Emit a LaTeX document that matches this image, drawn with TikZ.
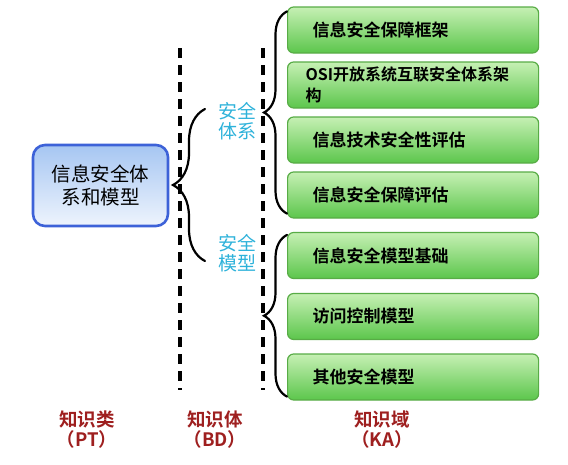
\documentclass[tikz,border=0pt]{standalone}
\usepackage{fontspec}
\setmainfont{Noto Sans CJK SC}[BoldFont={Noto Sans CJK SC Bold}]
\usetikzlibrary{decorations.pathreplacing}
\definecolor{ptborder}{HTML}{3D62D8}
\definecolor{pttop}{HTML}{A6C6F2}
\definecolor{ptbottom}{HTML}{EEF4FD}
\definecolor{katop}{HTML}{C6F0B4}
\definecolor{kamid}{HTML}{80D86A}
\definecolor{kabottom}{HTML}{5CC64C}
\definecolor{kaborder}{HTML}{58AC46}
\definecolor{bdcyan}{HTML}{2EB2DA}
\definecolor{levelred}{HTML}{9E1F1F}
\tikzset{
    ptbox/.style={draw=ptborder, line width=2.6pt, rounded corners=12pt,
        top color=pttop, bottom color=ptbottom, minimum width=135pt,
        minimum height=81pt, align=center,
        font=\fontsize{19.5}{23}\selectfont},
    kabox/.style={draw=kaborder, line width=1.2pt, rounded corners=6pt,
        top color=katop, middle color=kamid, bottom color=kabottom,
        minimum height=46pt, text width=201pt, inner xsep=25pt,
        align=left, anchor=west, font=\bfseries\fontsize{17}{21}\selectfont},
    bdlabel/.style={text=bdcyan, align=center, inner sep=0pt,
        font=\fontsize{19}{20}\selectfont},
    levellabel/.style={text=levelred, align=center, inner sep=0pt,
        font=\bfseries\fontsize{18.5}{20}\selectfont},
    divider/.style={line width=3.2pt, dash pattern=on 10pt off 7pt},
    bracestyle/.style={decorate, line width=2.2pt, line cap=round}
}
\begin{document}
\begin{tikzpicture}[x=1pt,y=-1pt]
    \useasboundingbox (0,0) rectangle (568,464);

    \node[ptbox] (pt) at (100.5,185.5) {信息安全体\\系和模型};

    \draw[divider] (180,48) -- (180,390);
    \draw[divider] (263,48) -- (263,390);

    \node[bdlabel] (tixi) at (237,121) {安全\\体系};
    \node[bdlabel] (moxing) at (237,253) {安全\\模型};

    \node[kabox] (ka1) at (287,30) {信息安全保障框架};
    \node[kabox, inner xsep=18pt, text width=215pt,
        font=\bfseries\fontsize{16}{21}\selectfont] (ka2) at (287,85) {OSI开放系统互联安全体系架\\构};
    \node[kabox] (ka3) at (287,140) {信息技术安全性评估};
    \node[kabox] (ka4) at (287,195) {信息安全保障评估};
    \node[kabox] (ka5) at (287,255.5) {信息安全模型基础};
    \node[kabox] (ka6) at (287,316.5) {访问控制模型};
    \node[kabox] (ka7) at (287,377) {其他安全模型};

    \coordinate (bd-top) at (205,109);
    \coordinate (bd-bottom) at (205,261);
    \draw[bracestyle, decoration={brace, amplitude=32pt}] (bd-bottom) -- (bd-top);
    \draw[bracestyle, decoration={brace, amplitude=23pt}]
        ([yshift=5pt]ka4.south west) -- ([yshift=-5pt]ka1.north west);
    \draw[bracestyle, decoration={brace, amplitude=23pt}]
        ([yshift=4pt]ka7.south west) -- ([yshift=-3pt]ka5.north west);

    \node[levellabel] (ptlevel) at (87,430) {知识类\\（PT）};
    \node[levellabel] (bdlevel) at (215,430) {知识体\\（BD）};
    \node[levellabel] (kalevel) at (382,430) {知识域\\（KA）};
\end{tikzpicture}
\end{document}
